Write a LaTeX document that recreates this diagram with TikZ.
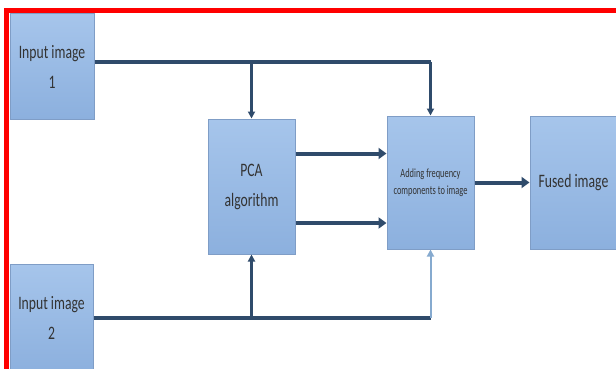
\documentclass[tikz,border=0pt]{standalone}
\usepackage{fontspec}
\newfontfamily\boxfont[FakeStretch=0.72]{Carlito}
\newfontfamily\tinyfont[FakeStretch=0.67]{Carlito}
\usetikzlibrary{positioning,arrows.meta,calc}
\definecolor{frame}{HTML}{FF0000}
\definecolor{boxtop}{HTML}{A6C5EB}
\definecolor{boxbot}{HTML}{8CB0DE}
\definecolor{boxline}{HTML}{7F9DC6}
\definecolor{wirecol}{HTML}{2F4B6B}
\definecolor{palewire}{HTML}{86AACF}
\definecolor{ink}{HTML}{333333}

\begin{document}
\begin{tikzpicture}[x=1pt,y=-1pt,
  blk/.style={draw=boxline,line width=1pt,top color=boxtop,bottom color=boxbot,text=ink,align=center,inner sep=0pt,font=\boxfont\fontsize{19}{30}\selectfont},
  wire/.style={wirecol,line width=4pt},
  feed/.style={wirecol,line width=2.5pt,-{Triangle[length=7pt,width=7pt]}},
  push/.style={wire,-{Triangle[length=8pt,width=11pt]}}]
\useasboundingbox (0,0) rectangle (616,369);
\clip (0,0) rectangle (616,369);
\node[blk,minimum width=84pt,minimum height=105pt] (in1) at (52,66.5){Input image\\1};
\node[blk,minimum width=83pt,minimum height=108pt] (in2) at (51.5,318){Input image\\2};
\node[blk,minimum width=87pt,minimum height=135pt] (pca) at (251.5,186.5){PCA\\algorithm};
\node[blk,minimum width=87pt,minimum height=133pt,font=\tinyfont\fontsize{12.5}{17}\selectfont] (add) at (430.5,182.5){Adding frequency\\components to image};
\node[blk,minimum width=87pt,minimum height=133pt] (fused) at (573.5,182.5){Fused image};
\coordinate (tr) at (add.north |- 0,62);
\coordinate (br) at (add.south |- in2.east);
\draw[wire] ([yshift=4.5pt]in1.east) -- (tr);
\draw[feed] (pca.north |- tr) -- (pca.north);\draw[feed] (tr) -- (add.north);
\draw[wire] (in2.east) -- (br);
\draw[feed] (pca.south |- br) -- (pca.south);\draw[feed,palewire,line width=2pt] (br) -- (add.south);
\draw[push] ([yshift=33pt]pca.east) -- ([yshift=33pt]pca.east -| add.west);
\draw[push] ([yshift=-36.5pt]pca.east) -- ([yshift=-36.5pt]pca.east -| add.west);
\draw[push] (add) -- (fused);
\draw[frame,line width=5pt] (6.5,369) -- (6.5,10.5) -- (616,10.5);
\end{tikzpicture}
\end{document}
